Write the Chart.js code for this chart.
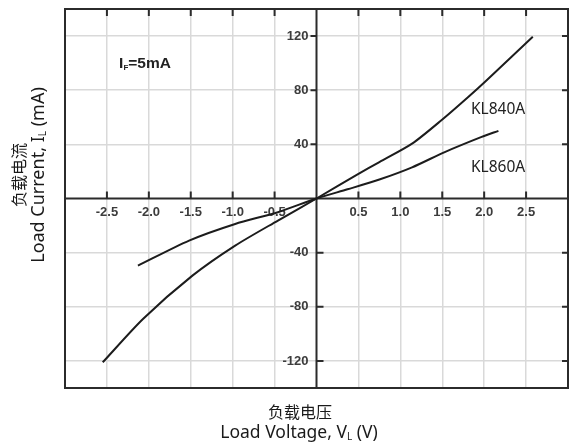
<!DOCTYPE html>
<html>
<head>
<meta charset="utf-8">
<script src="https://cdn.jsdelivr.net/npm/chart.js@4.4.1/dist/chart.umd.min.js"></script>
<style>
  body { margin: 0; background: #fff; }
  #wrap { width: 569px; height: 448px; }
</style>
</head>
<body>
<div id="wrap"><canvas id="chart" width="569" height="448"></canvas></div>
<script>
// (V, mA)
const voltsKL840A = [-2.55, -2.07, -1.48, -0.97, -0.46, 0, 0.49, 0.75, 1.14, 1.49, 1.81, 2.03, 2.58]
const currentKL840A = [-121, -89, -57, -34.8, -16.3, 0, 17.8, 26.9, 40.5, 57.8, 75, 87.4, 119.5]

const voltsKL860A = [-2.13, -1.52, -0.97, -0.46, 0, 0.37, 0.75, 1.14, 1.53, 1.97, 2.17]
const currentKL860A = [-49.6, -31.1, -18.8, -10.1, 0, 6.8, 14, 23, 34.3, 45.5, 50]

const xTicks = [-2.5, -2.0, -1.5, -1.0, -0.5, 0.5, 1.0, 1.5, 2.0, 2.5]
const yTicks = [-120, -80, -40, 40, 80, 120]

const toPoints = (xs, ys) => xs.map((x, i) => ({ x: x, y: ys[i] }))

const darkColor = '#2b2b2b'

// draws text with a subscript piece, centred on x
function drawSub(ctx, before, sub, after, x, y, font, subFont) {
    ctx.font = font
    let w1 = ctx.measureText(before).width
    let w3 = ctx.measureText(after).width
    ctx.font = subFont
    let w2 = ctx.measureText(sub).width
    let start = x - (w1 + w2 + w3) / 2
    ctx.textAlign = 'left'
    ctx.font = font
    ctx.fillText(before, start, y)
    ctx.font = subFont
    ctx.fillText(sub, start + w1, y + 4)
    ctx.font = font
    ctx.fillText(after, start + w1 + w2, y)
}

const framePlugin = {
    id: 'frame',
    beforeDatasetsDraw(chart) {
        const ctx = chart.ctx
        const area = chart.chartArea
        const xs = chart.scales.x
        const ys = chart.scales.y
        const x0 = xs.getPixelForValue(0)
        const y0 = ys.getPixelForValue(0)

        ctx.save()
        ctx.strokeStyle = darkColor
        ctx.lineWidth = 2

        // outer box
        ctx.strokeRect(area.left, area.top, area.right - area.left, area.bottom - area.top)

        // zero axes
        ctx.beginPath()
        ctx.moveTo(area.left, y0); ctx.lineTo(area.right, y0)
        ctx.moveTo(x0, area.top); ctx.lineTo(x0, area.bottom)
        ctx.stroke()

        // tick marks
        ctx.beginPath()
        xTicks.forEach(v => {
            let px = xs.getPixelForValue(v)
            ctx.moveTo(px, area.top); ctx.lineTo(px, area.top + 7)
            ctx.moveTo(px, y0); ctx.lineTo(px, y0 - 7)
        })
        yTicks.forEach(v => {
            let py = ys.getPixelForValue(v)
            ctx.moveTo(area.right, py); ctx.lineTo(area.right - 6, py)
            if (v > 0) { ctx.moveTo(x0, py); ctx.lineTo(x0 - 6, py) }
            else { ctx.moveTo(x0, py); ctx.lineTo(x0 + 7, py) }
        })
        ctx.stroke()

        // tick labels
        ctx.fillStyle = '#3c3c3c'
        ctx.font = 'bold 13px "Liberation Sans", Arial, sans-serif'
        ctx.textAlign = 'center'
        ctx.textBaseline = 'middle'
        xTicks.forEach(v => {
            ctx.fillText(v.toFixed(1), xs.getPixelForValue(v), y0 + 14)
        })
        ctx.textAlign = 'right'
        yTicks.forEach(v => {
            ctx.fillText(String(v), x0 - 8, ys.getPixelForValue(v))
        })

        // annotations
        ctx.fillStyle = '#222'
        ctx.textBaseline = 'middle'
        drawSub(ctx, 'I', 'F', '=5mA', 145, 64,
            'bold 15.5px "Liberation Sans", Arial, sans-serif', 'bold 8px "Liberation Sans", Arial, sans-serif')

        ctx.font = '15.5px "Noto Sans", "Open Sans", sans-serif'
        ctx.textAlign = 'left'
        ctx.fillText('KL840A', 471, 110)
        ctx.fillText('KL860A', 471, 168)

        // axis titles
        ctx.fillStyle = '#1a1a1a'
        ctx.textAlign = 'center'
        const cjk = '16px "Noto Sans CJK SC", sans-serif'
        const latinSub = '10px "Noto Sans", "Open Sans", sans-serif'
        ctx.font = cjk
        ctx.fillText('负载电压', 300, 412)
        drawSub(ctx, 'Load Voltage, V', 'L', ' (V)', 299, 433,
            '17.5px "Noto Sans", "Open Sans", sans-serif', latinSub)

        ctx.translate(0, 175)
        ctx.rotate(-Math.PI / 2)
        ctx.textAlign = 'center'
        ctx.font = cjk
        ctx.fillText('负载电流', 0, 19)
        drawSub(ctx, 'Load Current, I', 'L', ' (mA)', 0, 39,
            '18px "Noto Sans", "Open Sans", sans-serif', latinSub)
        ctx.restore()
    }
}

new Chart(document.getElementById('chart'), {
    type: 'scatter',
    data: {
        datasets: [
            {
                label: 'KL840A',
                data: toPoints(voltsKL840A, currentKL840A),
                showLine: true,
                borderColor: '#1c1c1c',
                borderWidth: 2,
                pointRadius: 0,
                tension: 0.25
            },
            {
                label: 'KL860A',
                data: toPoints(voltsKL860A, currentKL860A),
                showLine: true,
                borderColor: '#1c1c1c',
                borderWidth: 2,
                pointRadius: 0,
                tension: 0.25
            }
        ]
    },
    options: {
        responsive: false,
        animation: false,
        layout: { padding: { left: 65, top: 9, right: 1, bottom: 60 } },
        plugins: {
            legend: { display: false },
            tooltip: { enabled: false }
        },
        scales: {
            x: {
                type: 'linear',
                min: -3,
                max: 3,
                afterBuildTicks: scale => { scale.ticks = xTicks.map(v => ({ value: v })) },
                ticks: { display: false },
                border: { display: false },
                grid: { color: '#d9d9d9', lineWidth: 1.5, drawTicks: false }
            },
            y: {
                type: 'linear',
                min: -140,
                max: 140,
                afterBuildTicks: scale => { scale.ticks = yTicks.map(v => ({ value: v })) },
                ticks: { display: false },
                border: { display: false },
                grid: { color: '#d9d9d9', lineWidth: 1.5, drawTicks: false }
            }
        }
    },
    plugins: [framePlugin]
})
</script>
</body>
</html>
